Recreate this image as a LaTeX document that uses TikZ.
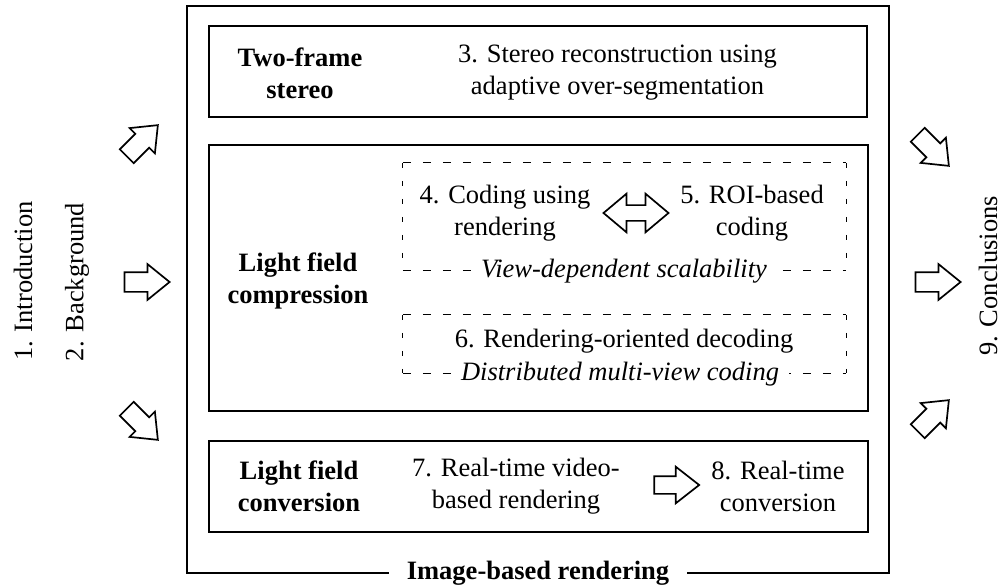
\documentclass[tikz,border=0pt]{standalone}
\usepackage{fontspec}
\setmainfont{Liberation Serif}
\usetikzlibrary{shapes.arrows}
\begin{document}
\begin{tikzpicture}[x=1pt,y=-1pt,
  every node/.style={font=\fontsize{26.5}{32}\selectfont},
  frame/.style={draw, line width=1.3pt, rectangle, inner sep=0pt},
  zone/.style={rectangle, inner sep=0pt},
  hdash/.style={line width=0.9pt, dash pattern=on 8pt off 12pt},
  vdash/.style={line width=0.9pt, dash pattern=on 5pt off 13pt},
  txt/.style={align=center, inner sep=0pt},
  btxt/.style={align=center, inner sep=0pt, font=\fontsize{26.5}{32}\selectfont\bfseries},
  itxt/.style={fill=white, inner xsep=10pt, inner ysep=2pt, font=\fontsize{26.5}{32}\selectfont\itshape},
  barrow/.style={single arrow, draw, line width=1.7pt, inner xsep=0pt, inner ysep=9pt,
    single arrow head extend=8pt, single arrow tip angle=78, minimum height=44pt},
  ]
\useasboundingbox (0,0) rectangle (1006,588);
% frames
\node[frame, line width=1.2pt, minimum width=702pt, minimum height=567pt] (outer) at (538,289.5) {};
\node[frame, minimum width=658pt, minimum height=91pt] (top) at (538,71.5) {};
\node[frame, minimum width=659pt, minimum height=266pt] (mid) at (538.5,278) {};
\node[frame, minimum width=659pt, minimum height=91pt] (bot) at (538.5,486.5) {};
\node[zone, minimum width=443pt, minimum height=107pt] (d1) at (624.5,216.5) {};
\node[zone, minimum width=443pt, minimum height=58pt] (d2) at (624.5,344) {};
\draw[hdash] (d1.north west) -- (d1.north east);
\draw[hdash] (d1.south west) -- (d1.south east);
\draw[vdash] (d1.north west) -- (d1.south west);
\draw[vdash] (d1.north east) -- (d1.south east);
\draw[hdash] (d2.north west) -- (d2.north east);
\draw[hdash] (d2.south west) -- (d2.south east);
\draw[vdash] (d2.north west) -- (d2.south west);
\draw[vdash] (d2.north east) -- (d2.south east);
% labels on frames
\node[fill=white, inner xsep=18pt, inner ysep=2pt, font=\fontsize{26.5}{32}\selectfont\bfseries] (ibr) at (538,573) {Image-based rendering};
\node[itxt] (vds) at (624,271) {View-dependent scalability};
\node[itxt] (dmv) at (620,374) {Distributed multi-view coding};
% texts
\node[btxt] (tfs) at (300,73) {Two-frame\\stereo};
\node[txt] (s3) at (617.5,73) {3. Stereo reconstruction using\\adaptive over-segmentation};
\node[btxt] (lfc) at (298,281) {Light field\\compression};
\node[txt] (s4) at (505,213) {4. Coding using\\rendering};
\node[txt] (s5) at (752,213) {5. ROI-based\\coding};
\node[txt] (s6) at (624,341) {6. Rendering-oriented decoding};
\node[btxt] (lfv) at (299,486) {Light field\\conversion};
\node[txt] (s7) at (516,486) {7. Real-time video-\\based rendering};
\node[txt] (s8) at (778,486) {8. Real-time\\conversion};
\node[txt, rotate=90] (s1) at (23,281) {1. Introduction};
\node[txt, rotate=90] (s2) at (77,282) {2. Background};
\node[txt, rotate=90] (s9) at (988,276) {9. Conclusions};
% block arrows
\node[double arrow, draw, line width=1.7pt, inner xsep=0pt, inner ysep=7pt,
  double arrow head extend=11.5pt, double arrow tip angle=80, minimum height=65pt] (a45) at (636,213) {};
\node[single arrow, draw, line width=1.7pt, inner xsep=0pt, inner ysep=8pt,
  single arrow head extend=9.5pt, single arrow tip angle=76, minimum height=45pt] (a78) at (671,485) {};
\node[barrow, rotate=45] (la1) at (138,145) {};
\node[barrow, minimum height=45pt] (la2) at (141,282) {};
\node[barrow, rotate=-45] (la3) at (138,420) {};
\node[barrow, rotate=-45] (ra1) at (929,146) {};
\node[barrow, minimum height=45pt] (ra2) at (932,282) {};
\node[barrow, rotate=45] (ra3) at (929,420) {};
\end{tikzpicture}
\end{document}
